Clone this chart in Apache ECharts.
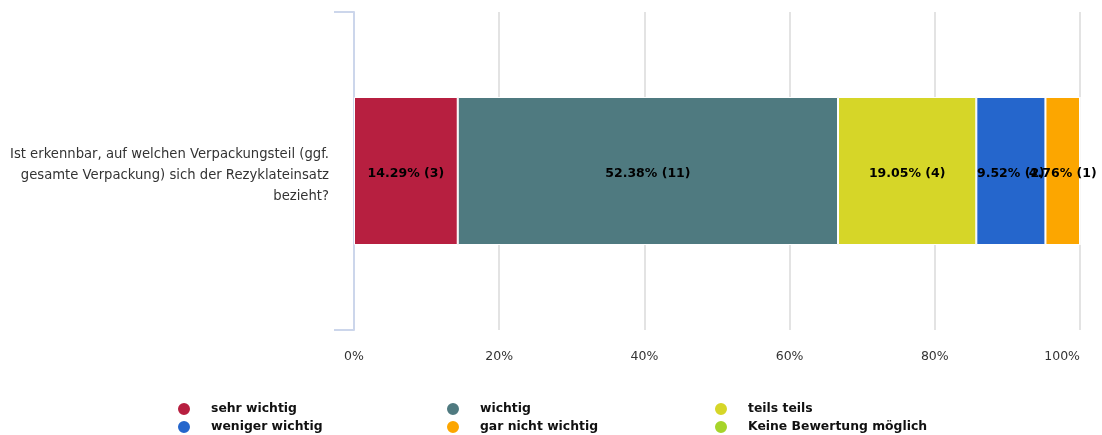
<!DOCTYPE html>
<html>
<head>
<meta charset="utf-8">
<script src="https://cdn.jsdelivr.net/npm/echarts@6/dist/echarts.min.js"></script>
<style>
  html, body { margin: 0; padding: 0; background: #fff; }
  #chart { width: 1102px; height: 435px; }
</style>
</head>
<body>
<div id="chart"></div>
<script>
// Question shown on the category axis
const categories = ['Ist erkennbar, auf welchen Verpackungsteil (ggf.\ngesamte Verpackung) sich der Rezyklateinsatz\nbezieht?'];

// Answer options and their response counts
const seriesNames = ['sehr wichtig', 'wichtig', 'teils teils', 'weniger wichtig', 'gar nicht wichtig', 'Keine Bewertung möglich'];
const counts = [3, 11, 4, 2, 1, 0];
const colors = ['#b71f40', '#4f7a80', '#d6d628', '#2566cc', '#fca600', '#a6d42a'];

// Percentage tick labels on the value axis
const tickLabels = ['0%', '20%', '40%', '60%', '80%', '100%'];

const total = counts.reduce((a, b) => a + b, 0);
const percents = counts.map(c => +(c / total * 100).toFixed(2));

const font = 'DejaVu Sans, Verdana, sans-serif';

const series = seriesNames.map((name, i) => ({
  name: name,
  type: 'bar',
  stack: 'total',
  barWidth: 148,
  itemStyle: { color: colors[i], borderColor: '#fff', borderWidth: 1 },
  label: {
    show: counts[i] > 0,
    position: 'inside',
    offset: [0, 3],
    color: '#000',
    fontFamily: font,
    fontWeight: 'bold',
    fontSize: 12.5,
    formatter: () => percents[i].toFixed(2) + '% (' + counts[i] + ')'
  },
  data: [percents[i]]
}));

const legendCols = [176, 445, 713];
const legend = legendCols.map((x, k) => ({
  orient: 'vertical',
  left: x,
  top: 401,
  padding: 0,
  itemGap: 2,
  itemWidth: 14,
  itemHeight: 14,
  icon: 'circle',
  selectedMode: false,
  textStyle: { fontFamily: font, fontWeight: 'bold', fontSize: 12.4, color: '#111', padding: [0, 0, 0, 15] },
  data: [seriesNames[k], seriesNames[k + 3]]
}));

const chart = echarts.init(document.getElementById('chart'));
chart.setOption({
  animation: false,
  color: colors,
  grid: { left: 354, right: 22, top: 12, bottom: 105, containLabel: false },
  legend: legend,
  xAxis: {
    type: 'value',
    min: 0,
    max: 100,
    interval: 20,
    axisLine: { show: false },
    axisTick: { show: false },
    splitLine: { show: true, lineStyle: { color: '#e3e3e3', width: 2 } },
    axisLabel: {
      margin: 20,
      fontFamily: font,
      fontSize: 12.5,
      color: '#333',
      alignMaxLabel: 'right',
      formatter: v => tickLabels[v / 20]
    }
  },
  yAxis: {
    type: 'category',
    data: categories,
    axisLine: { show: true, lineStyle: { color: '#ccd6eb', width: 2 } },
    axisTick: { show: true, length: 20, lineStyle: { color: '#ccd6eb', width: 2 } },
    axisLabel: {
      margin: 25,
      fontFamily: font,
      fontSize: 13.2,
      color: '#333',
      lineHeight: 21,
      align: 'right',
      // a thin spacer line above the question nudges the block slightly downward
      formatter: v => '{s| }\n' + v,
      rich: { s: { fontSize: 1, lineHeight: 10 } }
    }
  },
  series: series
});
</script>
</body>
</html>
